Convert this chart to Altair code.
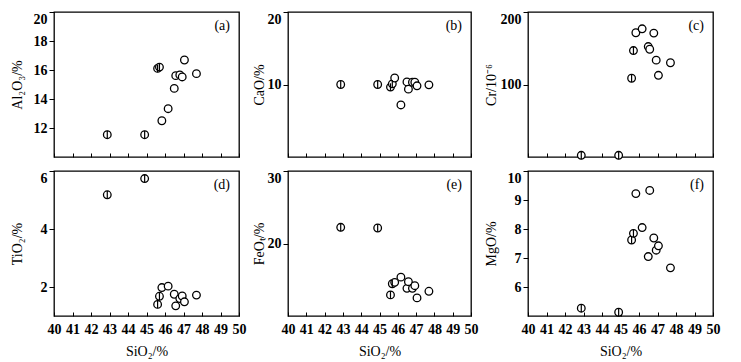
import altair as alt
import pandas as pd

# ---- data ----
sio2 = [42.88, 44.90, 45.60, 45.70, 45.83, 46.17, 46.50, 46.58, 46.80, 46.93, 47.05, 47.70]
group = ["phi", "phi", "phi", "phi", "open", "open", "open", "open", "open", "open", "open", "open"]
al2o3 = [11.54, 11.54, 16.11, 16.20, 12.50, 13.33, 14.73, 15.61, 15.66, 15.52, 16.69, 15.75]
cao = [10.00, 10.00, 9.64, 10.09, 10.90, 7.18, 10.36, 9.36, 10.32, 10.32, 9.82, 9.95]
cr = [2.3, 2.3, 108.6, 146.8, 171.4, 176.8, 152.3, 148.6, 170.9, 133.6, 112.7, 130.0]
tio2 = [5.18, 5.74, 1.40, 1.68, 1.98, 2.03, 1.75, 1.35, 1.60, 1.69, 1.49, 1.72]
feot = [22.23, 22.14, 12.91, 14.45, 14.64, 15.36, 13.82, 14.73, 13.82, 14.18, 12.50, 13.41]
mgo = [5.27, 5.13, 7.62, 7.85, 9.22, 8.05, 7.05, 9.33, 7.69, 7.27, 7.42, 6.66]

x_ticks = [40, 41, 42, 43, 44, 45, 46, 47, 48, 49, 50]

panels = [
    # column, y-title, domain, y ticks, tag, bottom row?
    ("al2o3", "Al₂O₃/%", [10, 20], [12, 14, 16, 18, 20], "(a)", False),
    ("cao", "CaO/%", [0, 20], [10, 20], "(b)", False),
    ("cr", "Cr/10⁻⁶", [0, 200], [100, 200], "(c)", False),
    ("tio2", "TiO₂/%", [1, 6], [2, 4, 6], "(d)", True),
    ("feot", "FeOₜ/%", [10, 30], [20, 30], "(e)", True),
    ("mgo", "MgO/%", [5, 10], [6, 7, 8, 9, 10], "(f)", True),
]

df = pd.DataFrame({
    "sio2": sio2, "group": group, "al2o3": al2o3, "cao": cao, "cr": cr,
    "tio2": tio2, "feot": feot, "mgo": mgo,
})

widths = [185, 183, 185, 185, 183, 185]
H = 145
title_x = [-30, -22, -30, -30, -22, -30]
FONT = "Liberation Serif"


def panel(i, col, ytitle, dom, yt, tag, bottom):
    W = widths[i]
    x_axis = alt.Axis(
        values=x_ticks, tickSize=4, offset=-4, domain=False, grid=False,
        labels=bottom, labelFlush=False, labelPadding=6, format="d",
        titlePadding=8,
    )
    y_axis = alt.Axis(
        values=yt, tickSize=5, domain=False, grid=False, labelFlush=True,
        labelPadding=2, format="d", titleX=title_x[i], titleY=H / 2,
    )
    x = alt.X("sio2:Q", scale=alt.Scale(domain=[40, 50], nice=False, zero=False),
              axis=x_axis, title="SiO₂/%" if bottom else None)
    y = alt.Y(f"{col}:Q", scale=alt.Scale(domain=dom, nice=False, zero=False),
              axis=y_axis, title=ytitle)
    base = alt.Chart(df)
    circles = base.mark_point(shape="circle", filled=True, fill="white",
                              stroke="black", strokeWidth=1.3, size=58,
                              opacity=1).encode(x=x, y=y)
    bars = base.transform_filter(alt.datum.group == "phi").mark_rule(
        color="black", strokeWidth=1.2, yOffset=-3.8, y2Offset=3.8
    ).encode(x=x, y=y, y2=alt.Y2(f"{col}:Q"))
    label = alt.Chart(pd.DataFrame({"t": [tag]})).mark_text(
        font=FONT, fontSize=14, align="right", baseline="middle", color="black"
    ).encode(text="t:N", x=alt.value(W - 9), y=alt.value(14))
    return alt.layer(circles, bars, label).properties(width=W, height=H)


charts = [panel(i, *p) for i, p in enumerate(panels)]

chart = alt.concat(*charts, columns=3, spacing={"row": 6, "column": 4}).properties(
    padding={"left": 1, "top": 2, "right": 0, "bottom": 0}
).configure_axis(
    labelFont=FONT, labelFontSize=14, labelFontWeight="bold", labelColor="black",
    titleFont=FONT, titleFontSize=14, titleFontWeight="normal", titleColor="black",
    tickColor="black", tickWidth=1,
).configure_view(stroke="black", strokeWidth=1.3)

chart.save("out.html", embed_options={"renderer": "svg", "actions": False})
